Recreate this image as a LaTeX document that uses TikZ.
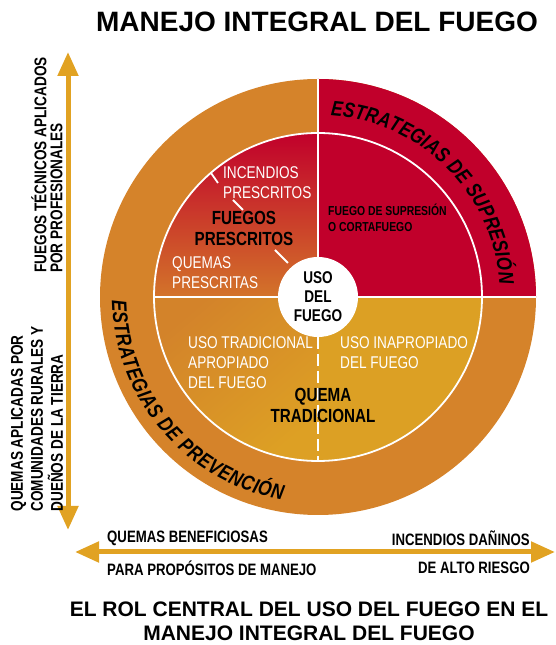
\documentclass[tikz,border=0pt]{standalone}
\usepackage{fontspec}
\setmainfont{Liberation Sans}
\newfontfamily\narrowfont[FakeStretch=0.8]{Liberation Sans}
\newfontfamily\curvefont[FakeStretch=0.82]{Liberation Sans}
\usetikzlibrary{arrows.meta,decorations.text,positioning}
\definecolor{ringorange}{HTML}{D5832A}
\definecolor{firered}{HTML}{C1002B}
\definecolor{tlmid}{HTML}{C9422A}
\definecolor{tlbot}{HTML}{D3742A}
\definecolor{bltop}{HTML}{D3832A}
\definecolor{blbot}{HTML}{DDA024}
\definecolor{brgold}{HTML}{DCA024}
\definecolor{arrowgold}{HTML}{E1A222}
\tikzset{
    wline/.style={white, line width=1.8pt},
    wtext/.style={white, inner sep=0pt, align=left, font=\narrowfont\fontsize{17}{20}\selectfont},
    btext/.style={black, inner sep=0pt, align=center, font=\narrowfont\bfseries\fontsize{19}{21}\selectfont},
    axtext/.style={black, inner sep=0pt, align=left, font=\narrowfont\bfseries\fontsize{17}{20}\selectfont},
    endtext/.style={axtext, font=\narrowfont\bfseries\fontsize{16.5}{18}\selectfont},
    bigarrow/.style={arrowgold, line width=5pt, {Triangle[width=20pt,length=24pt]}-{Triangle[width=20pt,length=24pt]}},
}
\begin{document}
\begin{tikzpicture}[x=1pt, y=1pt]
    \useasboundingbox (0,0) rectangle (556,645);
    \coordinate (c) at (318,348);
    \begin{scope}
        \fill[ringorange] (c) circle (218);
        \fill[firered] (c) -- ++(0:218) arc[start angle=0, end angle=90, radius=218] -- cycle;
    \end{scope}
    \begin{scope}
        \clip (c) -- ++(90:164) arc[start angle=90, end angle=180, radius=164] -- cycle;
        \shade[top color=firered, middle color=tlmid, bottom color=tlbot] (154,348) rectangle (318,512);
    \end{scope}
    \begin{scope}
        \clip (c) -- ++(180:164) arc[start angle=180, end angle=270, radius=164] -- cycle;
        \shade[top color=bltop, bottom color=blbot, shading angle=40] (154,184) rectangle (318,348);
    \end{scope}
    \fill[brgold] (c) -- ++(270:164) arc[start angle=270, end angle=360, radius=164] -- cycle;
    \draw[wline] (c) circle (164);
    \draw[wline] (318,566) -- (318,388);
    \draw[wline] (154,348) -- (536,348);
    \draw[wline, dash pattern=on 12pt off 5pt] (318,308) -- (318,184);
    \draw[wline] (211,472) -- (218,462);
    \draw[wline] (233,445) -- (243,435);
    \draw[wline] (275,395) -- (288,382);
    \node[circle, fill=white, minimum size=80, inner sep=0pt, font=\narrowfont\bfseries\fontsize{17}{19}\selectfont, align=center] (uso) at (c) {USO\\DEL\\FUEGO};

    \path[decorate, decoration={text along path, text align=fit to path,
        text={|\curvefont\bfseries\itshape\fontsize{21}{21}\selectfont|ESTRATEGIAS DE SUPRESIÓN}}]
        ([shift={(86:182)}]c) arc[start angle=86, end angle=4, radius=182];
    \path[decorate, decoration={text along path, text align=fit to path,
        text={|\curvefont\bfseries\itshape\fontsize{21}{21}\selectfont|ESTRATEGIAS DE PREVENCIÓN}}]
        ([shift={(181:206)}]c) arc[start angle=181, end angle=260, radius=206];

    \node[wtext, anchor=west] (inc) at (223,462) {INCENDIOS\\PRESCRITOS};
    \node[btext] (fp) at (244,417) {FUEGOS\\PRESCRITOS};
    \node[wtext, anchor=west] (qp) at (172,372) {QUEMAS\\PRESCRITAS};
    \node[btext, anchor=west, align=left, font=\narrowfont\bfseries\fontsize{13}{16}\selectfont] (sup) at (328,427) {FUEGO DE SUPRESIÓN\\O CORTAFUEGO};
    \node[wtext, anchor=west] (utr) at (188,282) {USO TRADICIONAL\\APROPIADO\\DEL FUEGO};
    \node[wtext, anchor=west] (uin) at (340,292) {USO INAPROPIADO\\DEL FUEGO};
    \node[btext] (qt) at (323,240) {QUEMA\\TRADICIONAL};

    \coordinate (vtop) at (68,593);
    \coordinate (vbot) at (68,115);
    \draw[bigarrow] (vtop) -- (vbot);
    \node[axtext, rotate=90, font=\narrowfont\bfseries\fontsize{17}{16}\selectfont] (tec) at (47,480) {FUEGOS TÉCNICOS APLICADOS\\POR PROFESIONALES};
    \node[axtext, rotate=90] (com) at (37,226) {QUEMAS APLICADAS POR\\COMUNIDADES RURALES Y\\DUEÑOS DE LA TIERRA};

    \coordinate (hleft) at (75,93);
    \coordinate (hright) at (555,93);
    \draw[bigarrow] (hleft) -- (hright);
    \node[endtext, anchor=west] (qb) at (107,107) {QUEMAS BENEFICIOSAS};
    \node[endtext, anchor=west] (pp) at (107,77) {PARA PROPÓSITOS DE MANEJO};
    \node[endtext, anchor=east] (id) at (530,107) {INCENDIOS DAÑINOS};
    \node[endtext, anchor=east] (ar) at (530,77) {DE ALTO RIESGO};

    \node[font=\bfseries\fontsize{28}{30}\selectfont, inner sep=0pt] (title) at (317,623) {MANEJO INTEGRAL DEL FUEGO};
    \node[font=\bfseries\fontsize{21}{24}\selectfont, inner sep=0pt, align=center] (sub) at (309,24) {EL ROL CENTRAL DEL USO DEL FUEGO EN EL\\MANEJO INTEGRAL DEL FUEGO};
\end{tikzpicture}
\end{document}
